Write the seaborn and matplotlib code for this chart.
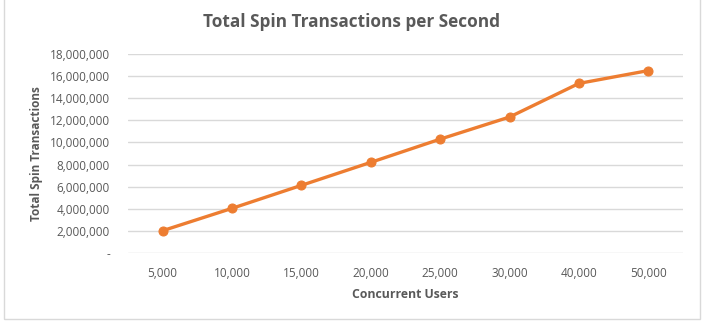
import matplotlib
matplotlib.use('Agg')
import matplotlib.pyplot as plt
import matplotlib.ticker as mticker
from matplotlib.patches import Rectangle
import seaborn as sns
import pandas as pd

users = ['5,000', '10,000', '15,000', '20,000', '25,000', '30,000', '40,000', '50,000']
transactions = [2020000, 4040000, 6120000, 8200000, 10300000, 12300000, 15340000, 16500000]
y_ticks = [0, 2000000, 4000000, 6000000, 8000000, 10000000, 12000000, 14000000, 16000000, 18000000]

df = pd.DataFrame({'users': users, 'tps': transactions})

sns.set_style('white')
plt.rcParams['font.family'] = ['Open Sans', 'DejaVu Sans']
grey = '#595959'
orange = '#ED7D31'

fig = plt.figure(figsize=(7.04, 3.30), dpi=100)
ax = fig.add_axes([128 / 704, 1 - 253 / 330, (683 - 128) / 704, (253 - 54) / 330])

x = list(range(len(users)))
sns.lineplot(x=x, y=df['tps'], color=orange, linewidth=2.4, marker='o',
             markersize=6.5, markeredgecolor=orange, ax=ax)

ax.set_xlim(-0.5, len(users) - 0.5)
ax.set_ylim(0, 18000000)
ax.set_xticks(x)
ax.set_xticklabels(users)
ax.set_yticks(y_ticks)
ax.yaxis.set_major_formatter(mticker.FuncFormatter(lambda v, p: '-' if v == 0 else f'{int(v):,}'))
ax.grid(axis='y', color='#D9D9D9', linewidth=1)
ax.set_axisbelow(True)
for s in ax.spines.values():
    s.set_visible(False)
ax.tick_params(axis='both', length=0, labelsize=8.5, colors=grey)
ax.tick_params(axis='y', pad=13)
ax.tick_params(axis='x', pad=10)

ax.set_xlabel('Concurrent Users', fontsize=8.8, fontweight='bold', color=grey, labelpad=6)
ax.set_ylabel('Total Spin Transactions', fontsize=8.5, fontweight='bold', color=grey, labelpad=5)
fig.text(0.5, 1 - 22 / 330, 'Total Spin Transactions per Second', ha='center', va='center',
         fontsize=12.4, fontweight='bold', color=grey)

fig.patches.append(Rectangle((4 / 704, 1 - 319 / 330), 696 / 704, 330 / 330, transform=fig.transFigure,
                             fill=False, edgecolor='#D9D9D9', linewidth=1))

fig.savefig('out.png', dpi=100)
